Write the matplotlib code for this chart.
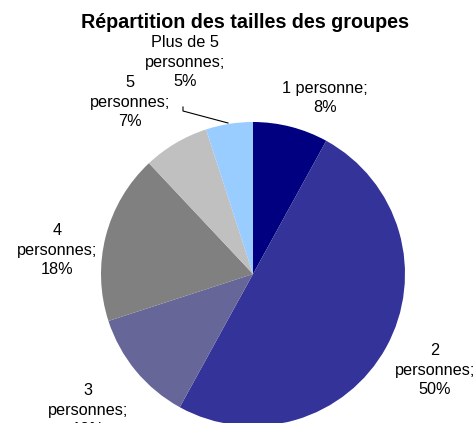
import matplotlib.pyplot as plt

# data
categories = ["1 personne", "2\npersonnes", "3\npersonnes", "4\npersonnes",
              "5\npersonnes", "Plus de 5\npersonnes"]
values = [8, 50, 12, 18, 7, 5]
colors = ["#000080", "#333399", "#666699", "#808080", "#C0C0C0", "#99CCFF"]

# label centres in pixel coords (x, y from top)
label_pos = [(325, 98), (435, 370), (88, 410), (57, 250), (130, 102), (185, 62)]

W, H = 477, 423
plt.rcParams['font.family'] = ['Liberation Sans', 'DejaVu Sans']

fig = plt.figure(figsize=(W / 100, H / 100), dpi=100)
ax = fig.add_axes([0, 0, 1, 1])

ax.pie(values, colors=colors, startangle=90, counterclock=False,
       center=(253, H - 274), radius=152, wedgeprops=dict(linewidth=0))
ax.set_xlim(0, W)
ax.set_ylim(0, H)
ax.set_aspect('equal')
ax.axis('off')

for cat, val, (x, y) in zip(categories, values, label_pos):
    ax.text(x, H - y, "{};\n{}%".format(cat, val), ha='center', va='center',
            multialignment='center', fontsize=11.7, linespacing=1.35)

# leader line for the small slice
ax.plot([183, 183, 228], [H - 107, H - 111, H - 123], color='black', lw=0.8)

fig.text(245 / W, 1 - 23 / H, "Répartition des tailles des groupes",
         ha='center', va='center', fontsize=14.2, fontweight='bold')

fig.savefig("out.png", dpi=100)
